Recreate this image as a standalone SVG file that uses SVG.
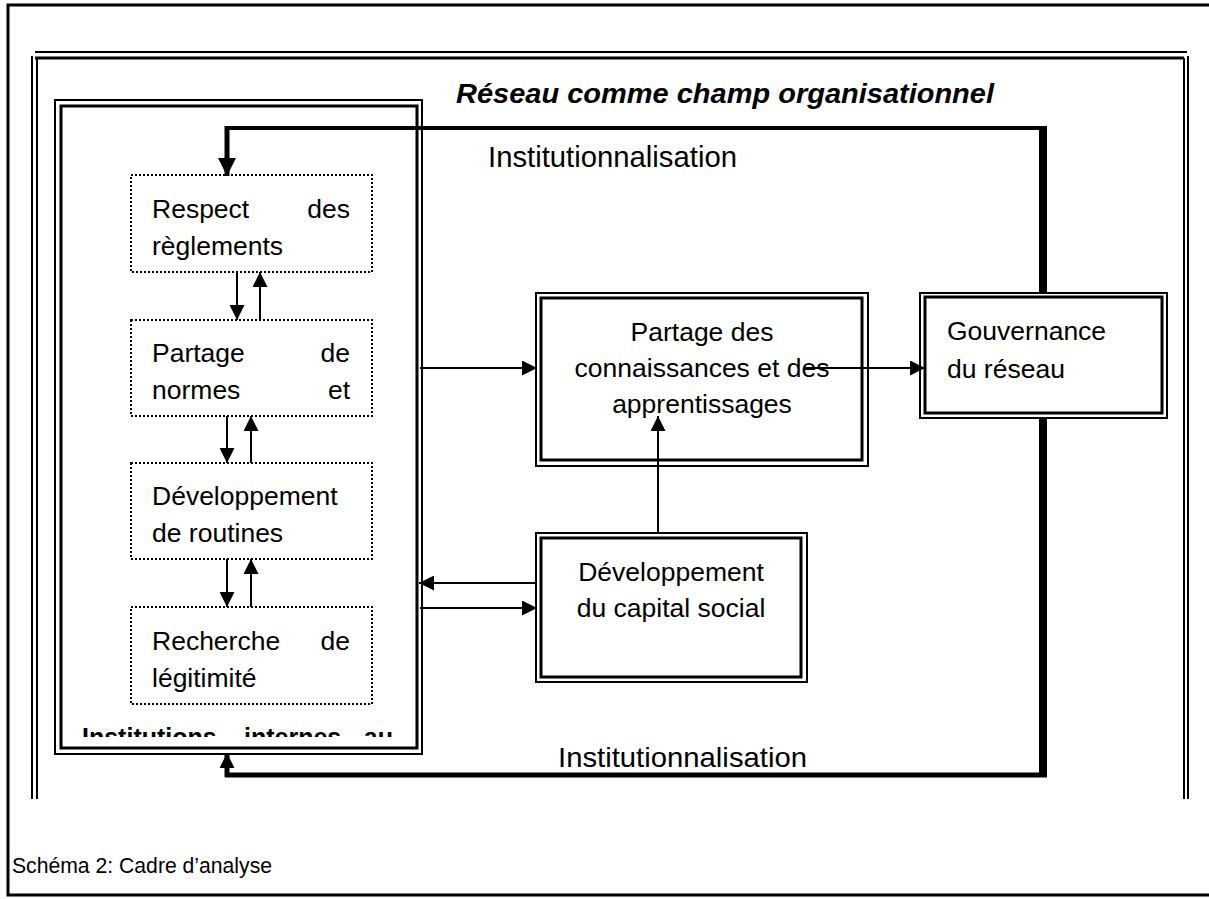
<svg xmlns="http://www.w3.org/2000/svg" width="1209" height="899" viewBox="0 0 1209 899">
<style>
.t{font-family:"Liberation Sans",Arial,sans-serif;fill:#000}
.body{font-size:26.5px}
.dot{fill:none;stroke:#000;stroke-width:2;stroke-dasharray:2 2}
.o{fill:none;stroke:#000;stroke-width:2}
.i{fill:none;stroke:#000;stroke-width:3}
.ln{fill:none;stroke:#000;stroke-width:2}
.thk{fill:none;stroke:#000}
</style>
<defs>
<marker id="ah" markerUnits="userSpaceOnUse" markerWidth="15" markerHeight="15" refX="15" refY="7.5" orient="auto" viewBox="0 0 15 15">
<path d="M0,0 L15,7.5 L0,15 z" fill="#000"/>
</marker>
<marker id="ahb" markerUnits="userSpaceOnUse" markerWidth="18" markerHeight="18" refX="18" refY="9" orient="auto" viewBox="0 0 18 18">
<path d="M0,0 L18,9 L0,18 z" fill="#000"/>
</marker>
<clipPath id="clipInst"><rect x="60" y="700" width="360" height="37"/></clipPath>
</defs>
<rect width="1209" height="899" fill="#fff"/>

<g id="outer-frame">
<path d="M1212,5 H8 V895 H1212" fill="none" stroke="#000" stroke-width="3"/>
</g>

<g id="reseau-frame">
<path d="M35,52 H1187" class="o"/>
<path d="M35,58 H1184" class="i" stroke-width="2.5"/>
<path d="M32,56 V799" class="o"/>
<path d="M37,58 V799" class="o"/>
<path d="M1184,58 V799" class="o"/>
<path d="M1188,56 V799" class="o"/>
<text class="t" x="456" y="103" font-size="27.5" font-weight="bold" font-style="italic" textLength="538" lengthAdjust="spacingAndGlyphs">Réseau comme champ organisationnel</text>
</g>

<g id="institutions">
<rect x="55" y="100" width="367" height="654" class="o"/>
<rect x="61" y="106" width="356" height="642" class="i"/>
<g clip-path="url(#clipInst)">
<text class="t" x="82" y="746" font-size="25" font-weight="bold">Institutions</text>
<text class="t" x="244" y="746" font-size="25" font-weight="bold">internes</text>
<text class="t" x="393" y="746" font-size="25" font-weight="bold" text-anchor="end">au</text>
</g>
</g>

<g id="respect">
<rect x="131" y="175" width="241" height="97" class="dot"/>
<text class="t body" x="152" y="218">Respect</text>
<text class="t body" x="350" y="218" text-anchor="end">des</text>
<text class="t body" x="152" y="255">règlements</text>
</g>

<g id="normes">
<rect x="131" y="320" width="241" height="96" class="dot"/>
<text class="t body" x="152" y="362">Partage</text>
<text class="t body" x="350" y="362" text-anchor="end">de</text>
<text class="t body" x="152" y="399">normes</text>
<text class="t body" x="350" y="399" text-anchor="end">et</text>
</g>

<g id="routines">
<rect x="131" y="463" width="241" height="96" class="dot"/>
<text class="t body" x="152" y="505">Développement</text>
<text class="t body" x="152" y="542">de routines</text>
</g>

<g id="legitimite">
<rect x="131" y="607" width="241" height="97" class="dot"/>
<text class="t body" x="152" y="650">Recherche</text>
<text class="t body" x="350" y="650" text-anchor="end">de</text>
<text class="t body" x="152" y="687">légitimité</text>
</g>

<g id="partage-connaissances">
<rect x="536" y="293" width="332" height="173" class="o"/>
<rect x="541" y="298" width="321" height="162" class="i"/>
<text class="t body" x="702" y="341" text-anchor="middle">Partage des</text>
<text class="t body" x="702" y="377" text-anchor="middle">connaissances et des</text>
<text class="t body" x="702" y="413" text-anchor="middle">apprentissages</text>
</g>

<g id="capital-social">
<rect x="536" y="533" width="271" height="149" class="o"/>
<rect x="541" y="538" width="260" height="139" class="i"/>
<text class="t body" x="671" y="581" text-anchor="middle">Développement</text>
<text class="t body" x="671" y="617" text-anchor="middle">du capital social</text>
</g>

<g id="gouvernance">
<rect x="920" y="293" width="247" height="125" class="o"/>
<rect x="925" y="297" width="237" height="116" class="i"/>
<text class="t body" x="947" y="340">Gouvernance</text>
<text class="t body" x="947" y="378">du réseau</text>
</g>

<g id="labels">
<text class="t" x="488" y="167" font-size="29.5" textLength="249" lengthAdjust="spacingAndGlyphs">Institutionnalisation</text>
<text class="t" x="558" y="767" font-size="28" textLength="249" lengthAdjust="spacingAndGlyphs">Institutionnalisation</text>
<text class="t" x="12" y="873" font-size="22" textLength="260" lengthAdjust="spacingAndGlyphs">Schéma 2: Cadre d’analyse</text>
</g>

<g id="connectors">
<line x1="237" y1="272" x2="237" y2="320" class="ln" marker-end="url(#ah)"/>
<line x1="260" y1="320" x2="260" y2="272" class="ln" marker-end="url(#ah)"/>
<line x1="227" y1="416" x2="227" y2="463" class="ln" marker-end="url(#ah)"/>
<line x1="251" y1="463" x2="251" y2="416" class="ln" marker-end="url(#ah)"/>
<line x1="227" y1="559" x2="227" y2="607" class="ln" marker-end="url(#ah)"/>
<line x1="251" y1="607" x2="251" y2="559" class="ln" marker-end="url(#ah)"/>
<line x1="420" y1="368" x2="537" y2="368" class="ln" marker-end="url(#ah)"/>
<line x1="805" y1="368" x2="925" y2="368" class="ln" marker-end="url(#ah)"/>
<line x1="658" y1="533" x2="658" y2="416" class="ln" marker-end="url(#ah)"/>
<line x1="536" y1="583" x2="419" y2="583" class="ln" marker-end="url(#ah)"/>
<line x1="420" y1="608" x2="537" y2="608" class="ln" marker-end="url(#ah)"/>
<line x1="1043" y1="293" x2="1043" y2="126" class="thk" stroke-width="8"/>
<line x1="225" y1="128" x2="1047" y2="128" class="thk" stroke-width="4"/>
<line x1="227" y1="126" x2="227" y2="176" class="thk" stroke-width="5" marker-end="url(#ahb)"/>
<line x1="1043" y1="418" x2="1043" y2="777" class="thk" stroke-width="8"/>
<line x1="225" y1="775" x2="1047" y2="775" class="thk" stroke-width="5"/>
<line x1="227" y1="777" x2="227" y2="753" class="thk" stroke-width="5" marker-end="url(#ah)"/>
</g>
</svg>
